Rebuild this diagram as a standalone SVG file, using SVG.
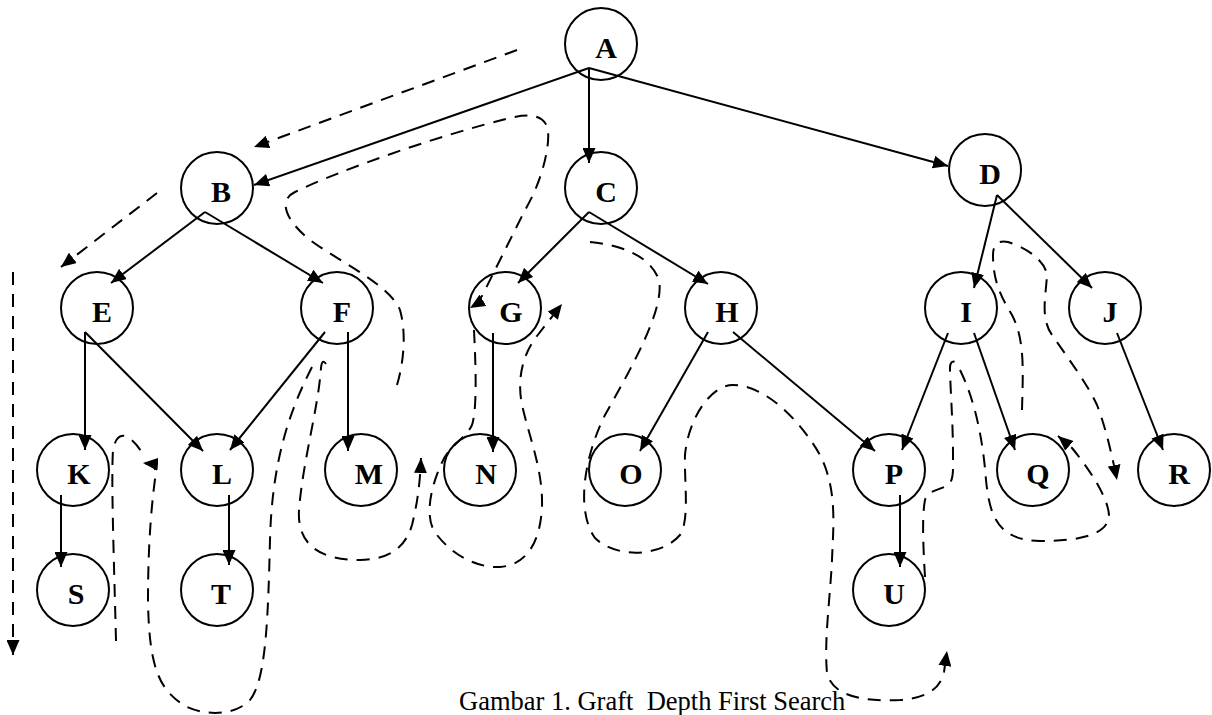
<svg xmlns="http://www.w3.org/2000/svg" width="1212" height="715" viewBox="0 0 1212 715">
  <style>
    .node circle { fill: none; stroke: #000; stroke-width: 2; }
    .node text { font-family: "Liberation Serif", "Times New Roman", serif; font-weight: bold; font-size: 30px; text-anchor: middle; fill: #000; }
    .edge { fill: none; stroke: #000; stroke-width: 2; marker-end: url(#arr); }
    .trace { fill: none; stroke: #000; stroke-width: 2; stroke-dasharray: 13 9; }
    .trace.to { marker-end: url(#arr); }
    .caption { font-family: "Liberation Serif", "Times New Roman", serif; font-size: 26.5px; fill: #000; white-space: pre; }
  </style>
  <defs>
    <marker id="arr" viewBox="0 0 15 13" refX="15" refY="6.5" markerWidth="15" markerHeight="13" markerUnits="userSpaceOnUse" orient="auto">
      <path d="M0,0 L15,6.5 L0,13 z" fill="#000"/>
    </marker>
  </defs>

  <rect width="1212" height="715" fill="#fff"/>

  <!-- tree edges (solid) -->
  <g id="edges">
    <line class="edge" x1="589" y1="68" x2="254" y2="185"/>
    <line class="edge" x1="589" y1="68" x2="589" y2="163"/>
    <line class="edge" x1="589" y1="68" x2="948" y2="166"/>
    <line class="edge" x1="205" y1="212" x2="111" y2="283"/>
    <line class="edge" x1="205" y1="212" x2="323" y2="283"/>
    <line class="edge" x1="589" y1="212" x2="518" y2="283"/>
    <line class="edge" x1="589" y1="212" x2="708" y2="284"/>
    <line class="edge" x1="997" y1="195" x2="974" y2="288"/>
    <line class="edge" x1="997" y1="195" x2="1092" y2="288"/>
    <line class="edge" x1="85" y1="332" x2="85" y2="450"/>
    <line class="edge" x1="85" y1="332" x2="203" y2="451"/>
    <line class="edge" x1="325" y1="332" x2="230" y2="450"/>
    <line class="edge" x1="348" y1="332" x2="348" y2="451"/>
    <line class="edge" x1="493" y1="333" x2="493" y2="452"/>
    <line class="edge" x1="708" y1="332" x2="640" y2="451"/>
    <line class="edge" x1="733" y1="332" x2="875" y2="451"/>
    <line class="edge" x1="948" y1="333" x2="902" y2="450"/>
    <line class="edge" x1="974" y1="333" x2="1015" y2="450"/>
    <line class="edge" x1="1117" y1="333" x2="1163" y2="450"/>
    <line class="edge" x1="61" y1="495" x2="61" y2="567"/>
    <line class="edge" x1="229" y1="495" x2="229" y2="565"/>
    <line class="edge" x1="900" y1="495" x2="900" y2="567"/>
  </g>

  <!-- nodes -->
  <g id="node-A" class="node"><circle cx="601" cy="44" r="36"/><text x="606" y="58">A</text></g>
  <g id="node-B" class="node"><circle cx="217" cy="188" r="36"/><text x="221" y="202">B</text></g>
  <g id="node-C" class="node"><circle cx="601" cy="188" r="36"/><text x="606" y="202">C</text></g>
  <g id="node-D" class="node"><circle cx="985" cy="170" r="36"/><text x="990" y="184">D</text></g>
  <g id="node-E" class="node"><circle cx="97" cy="308" r="36"/><text x="102" y="322">E</text></g>
  <g id="node-F" class="node"><circle cx="337" cy="308" r="36"/><text x="342" y="322">F</text></g>
  <g id="node-G" class="node"><circle cx="505" cy="308" r="36"/><text x="511" y="322">G</text></g>
  <g id="node-H" class="node"><circle cx="721" cy="308" r="36"/><text x="727" y="322">H</text></g>
  <g id="node-I" class="node"><circle cx="961" cy="308" r="36"/><text x="966" y="322">I</text></g>
  <g id="node-J" class="node"><circle cx="1105" cy="308" r="36"/><text x="1110" y="322">J</text></g>
  <g id="node-K" class="node"><circle cx="73" cy="470" r="36"/><text x="79" y="484">K</text></g>
  <g id="node-L" class="node"><circle cx="217" cy="470" r="36"/><text x="222" y="484">L</text></g>
  <g id="node-M" class="node"><circle cx="361" cy="470" r="36"/><text x="369" y="484">M</text></g>
  <g id="node-N" class="node"><circle cx="480" cy="470" r="36"/><text x="486" y="484">N</text></g>
  <g id="node-O" class="node"><circle cx="625" cy="470" r="36"/><text x="631" y="484">O</text></g>
  <g id="node-P" class="node"><circle cx="889" cy="470" r="36"/><text x="894" y="484">P</text></g>
  <g id="node-Q" class="node"><circle cx="1033" cy="470" r="36"/><text x="1038" y="484">Q</text></g>
  <g id="node-R" class="node"><circle cx="1174" cy="470" r="36"/><text x="1179" y="484">R</text></g>
  <g id="node-S" class="node"><circle cx="73" cy="590" r="36"/><text x="76" y="604">S</text></g>
  <g id="node-T" class="node"><circle cx="217" cy="590" r="36"/><text x="221" y="604">T</text></g>
  <g id="node-U" class="node"><circle cx="889" cy="590" r="36"/><text x="894" y="604">U</text></g>

  <!-- depth-first traversal trace (dashed) -->
  <g id="traversal">
    <path class="trace to" d="M517,50 L254,147"/>
    <path class="trace to" d="M157,193 L61,267"/>
    <path class="trace to" d="M13,272 L13,655"/>
    <path class="trace" d="M116,641 C114,560 111,480 113,450 Q116,434 125,436 Q133,439 141,451"/>
    <path class="trace to" d="M312,367 C290,410 272,460 270,540 C268,620 266,680 250,700 C235,716 205,716 185,706 C160,690 149,670 148,600 C148,540 152,500 156,472 Q155,464 143,463"/>
    <path class="trace to" d="M326,364 Q322,358 321,368 C318,410 303,460 299,510 C297,545 320,560 360,560 C390,559 405,548 412,525 C417,505 420,485 421,458"/>
    <path class="trace to" d="M397,385 C403,365 407,335 400,310 C390,285 340,262 310,240 C285,220 278,200 295,192 C340,170 440,135 510,118 C530,113 545,115 548,130 C550,150 540,185 525,210 C510,240 495,270 485,290 Q480,302 470,308"/>
    <path class="trace to" d="M474,330 C476,370 477,410 472,425 C465,440 448,445 440,467 C430,490 424,520 437,535 C455,558 480,568 500,567 C525,565 540,545 542,507 C543,470 530,440 522,405 C517,380 522,355 537,336 L562,304"/>
    <path class="trace to" d="M590,242 C620,245 650,255 659,280 C665,310 630,370 605,415 C585,455 575,510 595,538 C615,558 660,558 680,535 C690,520 684,480 685,455 C688,420 710,385 733,385 C765,385 800,420 820,455 C838,490 833,530 832,560 C830,600 824,640 827,673 C832,695 860,702 900,700 C925,698 940,690 944,672 L947,651"/>
    <path class="trace" d="M925,577 C923,545 922,515 925,500 C928,490 940,490 948,485 C954,480 953,470 953,455 C953,420 950,385 950,368 Q950,360 956,362"/>
    <path class="trace to" d="M960,370 C975,400 983,440 986,480 C990,520 1000,540 1040,541 C1080,541 1105,535 1109,518 C1110,500 1090,470 1072,448 L1058,436"/>
    <path class="trace to" d="M1022,410 C1023,370 1025,340 1012,315 C1000,295 993,280 993,255 C993,243 1000,240 1008,242 C1025,247 1045,260 1047,275 C1046,295 1040,318 1052,335 C1068,358 1088,385 1097,405 C1105,425 1112,455 1117,480"/>
  </g>

  <text class="caption" x="459" y="710" xml:space="preserve">Gambar 1. Graft  Depth First Search</text>
</svg>
